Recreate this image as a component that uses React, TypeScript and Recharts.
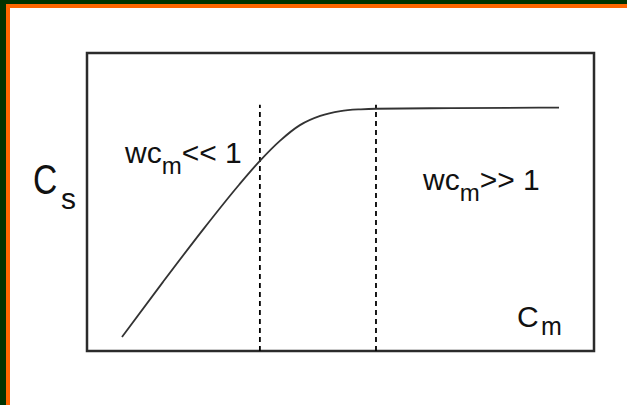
import React from 'react';
import { LineChart, Line, XAxis, YAxis, ReferenceLine, ReferenceArea, Customized } from 'recharts';

// Cm position (0-100) and Cs value (0-100)
const cmValues = [6.9, 15.0, 23.0, 30.0, 34.1, 38.1, 42.0, 46.0, 50.0, 54.0, 57.0, 72.0, 93.1];
const csValues = [4.7, 23.2, 41.0, 55.8, 63.8, 70.6, 75.8, 78.9, 80.5, 81.1, 81.3, 81.5, 81.7];

// regime boundaries (dashed lines)
const boundaries = [34.1, 57.0];
const boundaryTop = 82.6;

const curve = cmValues.map((cm, i) => ({ cm, cs: csValues[i] }));

const FONT = '"Liberation Sans", Arial, sans-serif';

const Labels = () => (
  <g fontFamily={FONT} fill="#111">
    <text transform="translate(33,194) scale(0.8,1)" fontSize={42}>C</text>
    <text x={61} y={209} fontSize={30}>s</text>
    <text x={125} y={163} fontSize={30}>
      wc<tspan fontSize={24} dy={11}>m</tspan><tspan dy={-11}>{'<< 1'}</tspan>
    </text>
    <text x={423} y={190} fontSize={30}>
      wc<tspan fontSize={24} dy={11}>m</tspan><tspan dy={-11}>{'>>  1'}</tspan>
    </text>
    <text x={517} y={327} fontSize={30}>
      C<tspan x={541} dy={8} fontSize={25}>m</tspan>
    </text>
  </g>
);

export default function App() {
  return (
    <div style={{ position: 'fixed', left: 0, top: 0, width: 627, height: 405, background: '#003300', overflow: 'hidden' }}>
      <div style={{ position: 'absolute', left: 6, top: 4, right: 0, bottom: 0, background: '#ff6600' }} />
      <div style={{ position: 'absolute', left: 10, top: 8, right: 0, bottom: 0, background: '#ffffff' }} />
      <div style={{ position: 'absolute', left: 0, top: 0 }}>
        <LineChart width={627} height={405} data={curve} margin={{ top: 53, right: 33, bottom: 54, left: 87 }}>
          <XAxis dataKey="cm" type="number" domain={[0, 100]} hide />
          <YAxis type="number" domain={[0, 100]} hide />
          <ReferenceArea x1={0} x2={100} y1={0} y2={100} fill="none" stroke="#2b2b2b" strokeWidth={2.5} />
          {boundaries.map((b) => (
            <ReferenceLine
              key={b}
              segment={[{ x: b, y: 0 }, { x: b, y: boundaryTop }]}
              stroke="#000"
              strokeWidth={1.8}
              strokeDasharray="5 4"
            />
          ))}
          <Line
            dataKey="cs"
            type="monotone"
            stroke="#333"
            strokeWidth={1.8}
            dot={false}
            isAnimationActive={false}
          />
          <Customized component={Labels} />
        </LineChart>
      </div>
    </div>
  );
}
